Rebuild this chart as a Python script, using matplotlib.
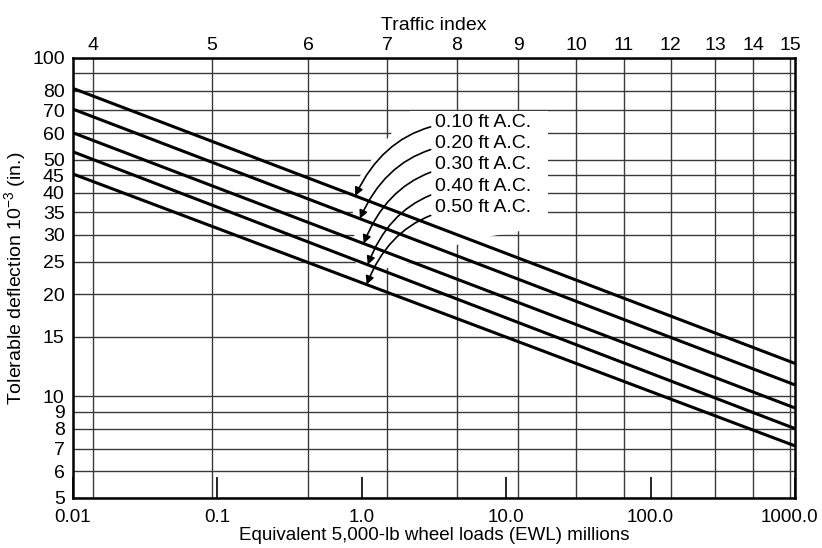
import numpy as np
import matplotlib
matplotlib.use("Agg")
import matplotlib.pyplot as plt
from matplotlib.patches import Polygon
from matplotlib.transforms import ScaledTranslation

plt.rcParams['font.family'] = ['Liberation Sans', 'DejaVu Sans']
plt.rcParams['mathtext.fontset'] = 'custom'
plt.rcParams['mathtext.rm'] = 'Liberation Sans'
plt.rcParams['mathtext.it'] = 'Liberation Sans'

# ---- data ----
ewl_ends = [0.01, 1000.0]                      # EWL (millions)
ac_labels = ["0.10 ft A.C.", "0.20 ft A.C.", "0.30 ft A.C.", "0.40 ft A.C.", "0.50 ft A.C."]
defl_010 = [81.3, 12.5]
defl_020 = [70.6, 10.8]
defl_030 = [60.1, 9.23]
defl_040 = [52.8, 8.02]
defl_050 = [45.4, 7.13]
series = [defl_010, defl_020, defl_030, defl_040, defl_050]

arrow_tip_x = [0.90, 0.97, 1.03, 1.10, 1.08]   # where each label's arrow meets its line
label_y = [64.3, 55.7, 48.5, 41.8, 36.2]
label_x = 3.2

x_ticks = [0.01, 0.1, 1.0, 10.0, 100.0, 1000.0]
x_ticklabels = ["0.01", "0.1", "1.0", "10.0", "100.0", "1000.0"]
y_ticks = [5, 6, 7, 8, 9, 10, 15, 20, 25, 30, 35, 40, 45, 50, 60, 70, 80, 100]
y_grid = [5, 6, 7, 8, 9, 10, 15, 20, 25, 30, 35, 40, 45, 50, 60, 70, 80, 90, 100]
ti_labels = [4, 5, 6, 7, 8, 9, 10, 11, 12, 13, 14, 15]
ti_ewl = [0.0137, 0.0918, 0.424, 1.50, 4.56, 12.1, 30.4, 65.5, 138, 279, 512, 923]

# ---- figure ----
fig = plt.figure(figsize=(8.22, 5.48), dpi=100)
L, R, B, T = 73, 795, 498, 58
ax = fig.add_axes([L / 822, 1 - B / 548, (R - L) / 822, (B - T) / 548])
ax.set_xscale('log')
ax.set_yscale('log')
ax.set_xlim(0.01, 1000)
ax.set_ylim(5, 100)

grid_kw = dict(color='#3a3a3a', lw=1.0, zorder=0.5)
ax.hlines(y_grid, 0.01, 1000, **grid_kw)
ax.vlines(ti_ewl, 5, 100, **grid_kw)

# white mask behind the labels / arrows (px coordinates of the figure)
def px2ax(px, py):
    return ((px - L) / (R - L), (B - py) / (B - T))
mask_px = [(410, 111), (548, 111), (548, 226), (470, 240), (395, 268), (356, 268),
           (352, 195), (360, 176), (372, 159), (400, 122)]
mask = Polygon([px2ax(*p) for p in mask_px], closed=True, transform=ax.transAxes,
               facecolor='white', edgecolor='none', zorder=1)
ax.add_patch(mask)

for s in series:
    ax.plot(ewl_ends, s, color='black', lw=2.2, zorder=3, solid_capstyle='butt')

for lab, s, tx, ly in zip(ac_labels, series, arrow_tip_x, label_y):
    lx0, lx1 = np.log10(ewl_ends)
    ly0, ly1 = np.log10(s)
    ty = 10 ** (ly0 + (ly1 - ly0) * (np.log10(tx) - lx0) / (lx1 - lx0))
    ax.annotate(lab, xy=(tx, ty), xytext=(label_x, ly), ha='left', va='center',
                fontsize=14, zorder=4,
                arrowprops=dict(arrowstyle='-|>', connectionstyle='arc3,rad=0.35',
                                color='black', lw=1.2, shrinkA=1, shrinkB=0,
                                mutation_scale=12))

ax.set_xticks(x_ticks)
ax.set_xticklabels(x_ticklabels, fontsize=13.5)
ax.xaxis.set_minor_locator(matplotlib.ticker.NullLocator())
ax.tick_params(axis='x', which='major', direction='in', length=15, width=1.2, pad=8)
ax.set_yticks(y_ticks)
ax.set_yticklabels([str(v) for v in y_ticks], fontsize=14)
ax.yaxis.set_minor_locator(matplotlib.ticker.NullLocator())
ax.tick_params(axis='y', which='major', length=0, pad=6)

last = ax.get_xticklabels()[-1]
last.set_transform(last.get_transform() + ScaledTranslation(-0.06, 0, fig.dpi_scale_trans))

for sp in ax.spines.values():
    sp.set_linewidth(1.8)
    sp.set_zorder(5)

ax.set_xlabel("Equivalent 5,000-lb wheel loads (EWL) millions", fontsize=13.5, labelpad=1)
ax.set_ylabel("Tolerable deflection 10$^{-3}$ (in.)", fontsize=14, labelpad=3)

ax2 = ax.twiny()
ax2.set_xscale('log')
ax2.set_xlim(0.01, 1000)
ax2.set_xticks(ti_ewl)
ax2.set_xticklabels([str(t) for t in ti_labels], fontsize=14)
ax2.xaxis.set_minor_locator(matplotlib.ticker.NullLocator())
ax2.tick_params(axis='x', which='major', length=0, pad=3)
ax2.set_xlabel("Traffic index", fontsize=14, labelpad=5)
for sp in ax2.spines.values():
    sp.set_visible(False)

fig.savefig("out.png", dpi=100)
